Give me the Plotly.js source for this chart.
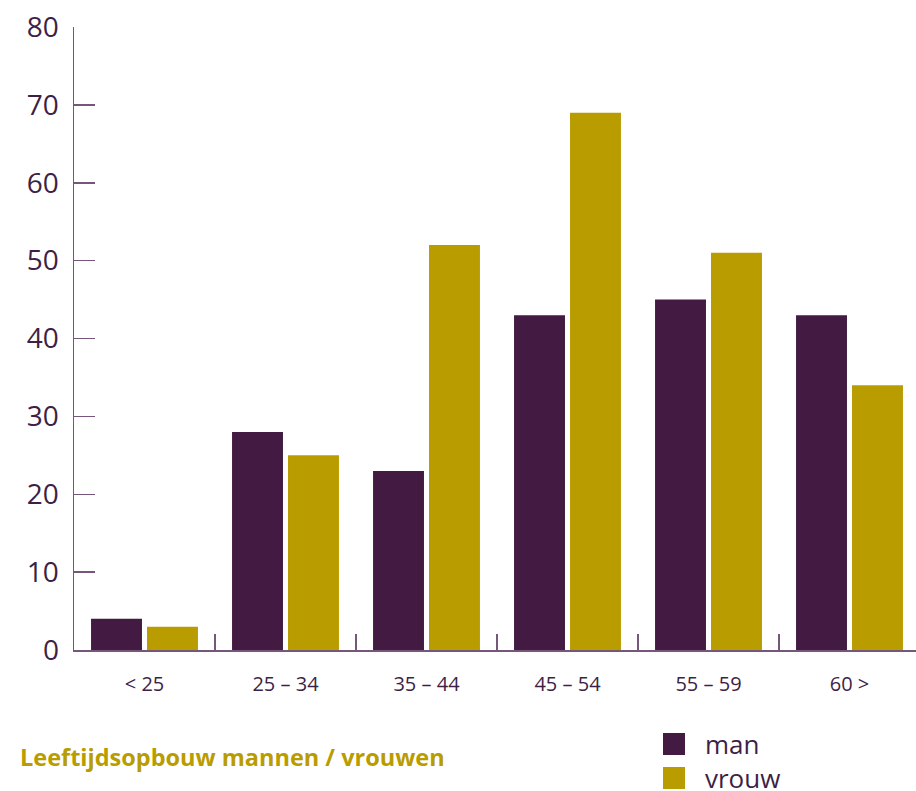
<!DOCTYPE html>
<html>
<head>
<meta charset="utf-8">
<script src="https://cdn.plot.ly/plotly-3.0.1.min.js"></script>
<style>
  html, body { margin: 0; padding: 0; background: #ffffff; }
  #chart { width: 916px; height: 791px; }
</style>
</head>
<body>
<div id="chart"></div>
<script>
// ---- data ----
const categories = ['< 25', '25 – 34', '35 – 44', '45 – 54', '55 – 59', '60 >'];
const seriesNames = ['man', 'vrouw'];
const manValues = [4, 28, 23, 43, 45, 43];
const vrouwValues = [3, 25, 52, 69, 51, 34];
const yTickValues = [0, 10, 20, 30, 40, 50, 60, 70, 80];
const chartTitle = 'Leeftijdsopbouw mannen / vrouwen';

// ---- styles ----
const colors = ['#421a42', '#b99c00'];
const textColor = '#3e1f46';
const axisColor = '#76567a';
const fontFamily = '"Open Sans", "Noto Sans", sans-serif';

const W = 916, H = 791;
const margin = {l: 74, r: 0, t: 27, b: 141};
const plotW = W - margin.l - margin.r;
const plotH = H - margin.t - margin.b;
const catWidthPx = 141;

const seriesValues = [manValues, vrouwValues];
const traces = seriesValues.map((vals, i) => ({
  type: 'bar',
  name: seriesNames[i],
  x: categories,
  y: vals,
  marker: {color: colors[i], line: {width: 0}},
  showlegend: false,
  hoverinfo: 'x+y+name'
}));

// manual legend (larger swatches than Plotly's fixed bar icon)
const px2x = px => (px - margin.l) / plotW;
const px2y = py => (margin.t + plotH - py) / plotH;
const legendTop = [733, 767];
const swatch = 22;
const shapes = [];
const annotations = [];
seriesNames.forEach((name, i) => {
  shapes.push({
    type: 'rect', xref: 'paper', yref: 'paper',
    x0: px2x(663), x1: px2x(663 + swatch),
    y0: px2y(legendTop[i]), y1: px2y(legendTop[i] + swatch),
    fillcolor: colors[i], line: {width: 0}
  });
  annotations.push({
    xref: 'paper', yref: 'paper',
    x: px2x(703), y: px2y(legendTop[i] + swatch / 2),
    xanchor: 'left', yanchor: 'middle',
    text: name, showarrow: false,
    font: {family: fontFamily, size: 26, color: textColor}
  });
});

const nCat = categories.length;
const layout = {
  width: W, height: H,
  margin: margin,
  paper_bgcolor: '#ffffff',
  plot_bgcolor: '#ffffff',
  font: {family: fontFamily, color: textColor},
  showlegend: false,
  bargap: 0.206,
  bargroupgap: 0.09,
  barmode: 'group',
  title: {
    text: '<b>' + chartTitle + '</b>',
    xref: 'container', yref: 'container',
    x: 20 / W, xanchor: 'left',
    y: 1 - 758 / H, yanchor: 'middle',
    font: {family: fontFamily, size: 23.5, color: '#b99c00'}
  },
  xaxis: {
    type: 'category',
    range: [-0.5, nCat - 0.5 - (margin.l + nCat * catWidthPx - W) / catWidthPx],
    showline: true, linecolor: axisColor, linewidth: 1.5,
    ticks: 'inside', tickson: 'boundaries', ticklen: 16, tickwidth: 1.5, tickcolor: axisColor,
    showgrid: false, zeroline: false,
    tickfont: {family: fontFamily, size: 20, color: textColor},
    ticklabelstandoff: 15,
    fixedrange: true
  },
  yaxis: {
    range: [0, 80],
    tickmode: 'array', tickvals: yTickValues,
    ticktext: yTickValues.map(String),
    showline: true, linecolor: axisColor, linewidth: 1.5,
    ticks: 'inside', ticklen: 21, tickwidth: 1.5, tickcolor: axisColor,
    showgrid: false, zeroline: false,
    tickfont: {family: fontFamily, size: 28, color: textColor},
    ticklabelstandoff: 8,
    fixedrange: true
  },
  shapes: shapes,
  annotations: annotations
};

Plotly.newPlot('chart', traces, layout, {displayModeBar: false, staticPlot: true});
</script>
</body>
</html>
